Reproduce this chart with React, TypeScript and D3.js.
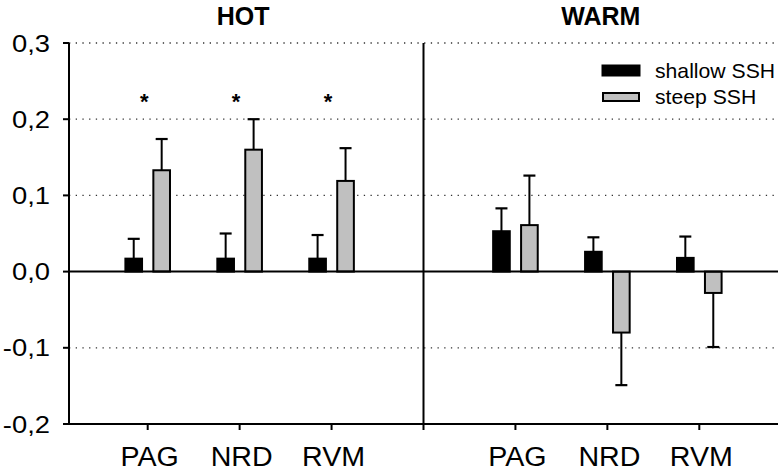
import React from "react";
import * as d3 from "d3";

const width = 784;
const height = 473;
const margin = { top: 43, right: 6, bottom: 49, left: 69 };

// data
const groups = ["HOT", "WARM"];
const regions = ["PAG", "NRD", "RVM"];
const series = ["shallow SSH", "steep SSH"];
const seriesFill = ["#000000", "#c0c0c0"];

const hotShallow = [0.017, 0.017, 0.017];
const hotShallowErr = [0.026, 0.033, 0.031];
const hotSteep = [0.133, 0.16, 0.119];
const hotSteepErr = [0.041, 0.04, 0.043];

const warmShallow = [0.053, 0.026, 0.018];
const warmShallowErr = [0.03, 0.019, 0.028];
const warmSteep = [0.061, -0.08, -0.028];
const warmSteepErr = [0.065, 0.069, 0.071];

const yTicks = [-0.2, -0.1, 0, 0.1, 0.2, 0.3];
const gridTicks = [-0.1, 0.1, 0.2, 0.3];
const starLevel = 0.23;
const starRegions = ["PAG", "NRD", "RVM"]; // significant in HOT

const values = [
  [hotShallow, hotSteep],
  [warmShallow, warmSteep],
];
const errors = [
  [hotShallowErr, hotSteepErr],
  [warmShallowErr, warmSteepErr],
];

const fmt = (v: number) => d3.format(".1f")(v).replace(".", ",").replace("−", "-");

// text slightly stretched sideways, like the original export
function WideText({ x, y, sx, children, ...rest }: any) {
  return (
    <text transform={`translate(${x},${y}) scale(${sx},1)`} fill="#000" {...rest}>
      {children}
    </text>
  );
}

export default function App() {
  // slot index: group*4 + region, slot 3 is the divider
  const x = d3
    .scaleLinear()
    .domain([-0.856, 6.856])
    .range([margin.left, width - margin.right]);
  const y = d3
    .scaleLinear()
    .domain([-0.2, 0.3])
    .range([height - margin.bottom, margin.top]);
  const sub = d3
    .scaleBand<string>()
    .domain(series)
    .range([-23.3, 23.3])
    .paddingInner(0.333);

  const font = "'Liberation Sans', Arial, sans-serif";
  const bars: any[] = [];
  groups.forEach((g, gi) => {
    regions.forEach((r, ri) => {
      series.forEach((s, si) => {
        const v = values[gi][si][ri];
        const e = errors[gi][si][ri];
        const cx = x(gi * 4 + ri);
        bars.push({ key: g + r + s, cx, s, si, v, e });
      });
    });
  });

  return (
    <svg
      width={width}
      height={height}
      style={{ position: "absolute", left: 0, top: 0, background: "#fff" }}
      fontFamily={font}
    >
      {/* dotted gridlines */}
      {gridTicks.map((t) => (
        <line
          key={"g" + t}
          x1={margin.left}
          x2={width - margin.right}
          y1={y(t)}
          y2={y(t)}
          stroke="#333"
          strokeWidth={1.3}
          strokeDasharray="1.3,5.4"
        />
      ))}

      {/* bars */}
      {bars.map((b) => {
        const bx = b.cx + (sub(b.s) as number);
        const bw = sub.bandwidth();
        const top = y(Math.max(0, b.v));
        const bot = y(Math.min(0, b.v));
        const dir = b.v >= 0 ? 1 : -1;
        const ex = bx + bw / 2;
        const eEnd = y(b.v + dir * b.e);
        return (
          <g key={b.key}>
            <line x1={ex} x2={ex} y1={y(b.v)} y2={eEnd} stroke="#000" strokeWidth={2} />
            <line x1={ex - 6} x2={ex + 6} y1={eEnd} y2={eEnd} stroke="#000" strokeWidth={2.2} />
            <rect
              x={bx + 1}
              y={top}
              width={bw - 2}
              height={bot - top}
              fill={seriesFill[b.si]}
              stroke="#000"
              strokeWidth={2}
            />
          </g>
        );
      })}

      {/* zero line */}
      <line
        x1={margin.left}
        x2={width - margin.right}
        y1={y(0)}
        y2={y(0)}
        stroke="#000"
        strokeWidth={2}
      />

      {/* axes */}
      <line x1={margin.left} x2={margin.left} y1={y(0.3)} y2={y(-0.2)} stroke="#000" strokeWidth={2} />
      <line x1={x(3)} x2={x(3)} y1={y(0.3)} y2={y(-0.2) + 6} stroke="#000" strokeWidth={2} />
      <line
        x1={margin.left}
        x2={width - margin.right}
        y1={y(-0.2)}
        y2={y(-0.2)}
        stroke="#000"
        strokeWidth={2}
      />
      {yTicks.map((t) => (
        <g key={"y" + t}>
          <line x1={margin.left - 6} x2={margin.left} y1={y(t)} y2={y(t)} stroke="#000" strokeWidth={2} />
          <WideText x={50} y={y(t) + 8.5} sx={1.14} textAnchor="end" fontSize={24}>
            {fmt(t)}
          </WideText>
        </g>
      ))}
      {groups.map((g, gi) =>
        regions.map((r, ri) => (
          <g key={"x" + g + r}>
            <line
              x1={x(gi * 4 + ri)}
              x2={x(gi * 4 + ri)}
              y1={y(-0.2)}
              y2={y(-0.2) + 6}
              stroke="#000"
              strokeWidth={2}
            />
            <WideText x={x(gi * 4 + ri) + 2} y={466} sx={1.06} textAnchor="middle" fontSize={27}>
              {r}
            </WideText>
          </g>
        ))
      )}

      {/* group titles */}
      {groups.map((g, gi) => (
        <text
          key={"t" + g}
          x={gi === 0 ? (x(0) + x(2)) / 2 + 3.5 : (x(3) + x(6.856)) / 2}
          y={25}
          textAnchor="middle"
          fontSize={25}
          fontWeight="bold"
          fill="#000"
        >
          {g}
        </text>
      ))}

      {/* significance stars */}
      {starRegions.map((r) => (
        <text
          key={"s" + r}
          x={x(regions.indexOf(r)) - 3.5}
          y={y(starLevel) + 12.5}
          textAnchor="middle"
          fontSize={22}
          fontWeight="bold"
          fill="#000"
        >
          *
        </text>
      ))}

      {/* legend */}
      <g>
        <rect x={602} y={65} width={38} height={11} fill="#000" stroke="#000" strokeWidth={1} />
        <WideText x={655} y={78} sx={1.06} fontSize={20}>
          {series[0]}
        </WideText>
        <rect x={603} y={93} width={36} height={8} fill="#c0c0c0" stroke="#000" strokeWidth={2} />
        <WideText x={655} y={104} sx={1.06} fontSize={20}>
          {series[1]}
        </WideText>
      </g>
    </svg>
  );
}
